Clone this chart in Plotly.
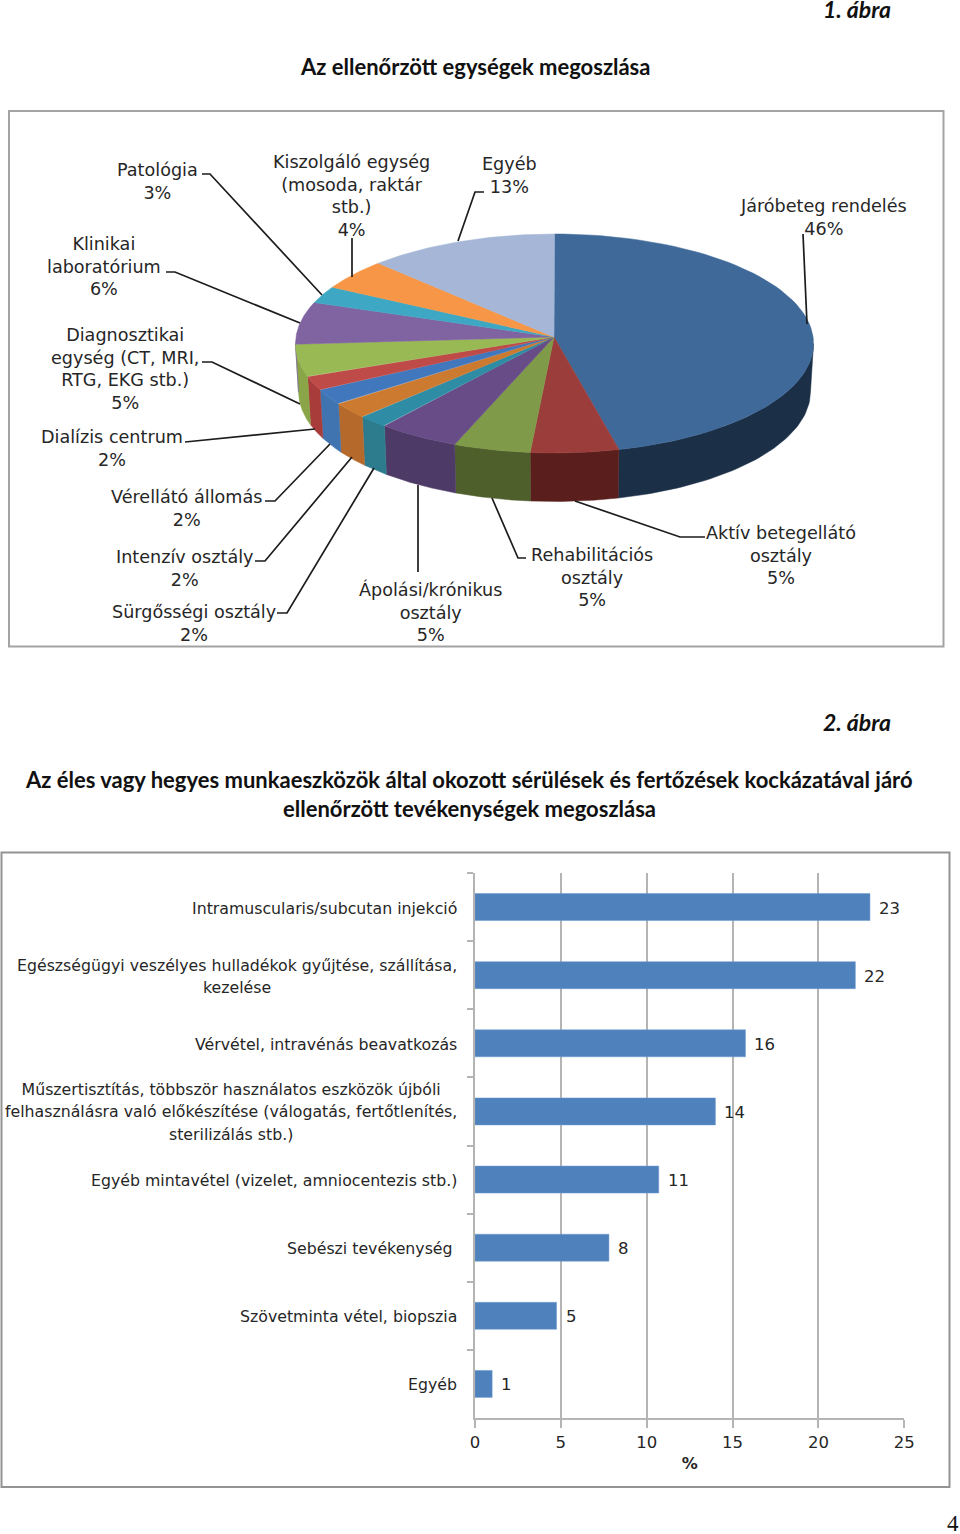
import numpy as np
import plotly.graph_objects as go

# ---------- data ----------
pie_names = ["Járóbeteg rendelés", "Aktív betegellátó osztály", "Rehabilitációs osztály",
             "Ápolási/krónikus osztály", "Sürgősségi osztály", "Intenzív osztály",
             "Vérellátó állomás", "Dialízis centrum", "Diagnosztikai egység", "Klinikai laboratórium",
             "Patológia", "Kiszolgáló egység", "Egyéb"]
pie_labels = [46, 5, 5, 5, 2, 2, 2, 2, 5, 6, 3, 4, 13]
pie_shares = [46, 5.5, 4.8, 5.1, 1.9, 2.4, 2.3, 2.1, 4.8, 6.2, 2.5, 4.5, 11.9]
pie_top = ["#3e6998", "#9b3d3b", "#7f9a48", "#674c87", "#2f8ca5", "#cc7a30", "#4178bd",
           "#bf4b48", "#98b954", "#8064a2", "#3ea8c4", "#f79646", "#a5b6d6"]
pie_side = ["#1b2f47", "#5a1f1d", "#4f5f2c", "#4e3a66", "#2c7c8e", "#b5692b", "#3f74b0",
            "#a83c3a", "#8aa548", "#8064a2", "#3ea8c4", "#f79646", "#a5b6d6"]

bar_names = ["Intramuscularis/subcutan injekció",
             "Egészségügyi veszélyes hulladékok gyűjtése, szállítása,<br>kezelése",
             "Vérvétel, intravénás beavatkozás",
             "Műszertisztítás, többször használatos eszközök újbóli<br>felhasználásra való előkészítése (válogatás, fertőtlenítés,<br>sterilizálás stb.)",
             "Egyéb mintavétel (vizelet, amniocentezis stb.)",
             "Sebészi tevékenység",
             "Szövetminta vétel, biopszia",
             "Egyéb"]
bar_labels = [23, 22, 16, 14, 11, 8, 5, 1]
bar_values = [23, 22.15, 15.75, 14, 10.7, 7.8, 4.75, 1]

W, H = 960, 1534
INK = "#262626"
BODY = "DejaVu Sans"
PIE_SIZE, PIE_LINE, BAR_SIZE, BAR_LINE, NUM_SIZE = 17.6, 17.46, 15.75, 17.3, 16.5
fig = go.Figure()

# ---------- pie geometry ----------
CX, CY, A, B = 554.5, 343.5, 259, 109.5
AX, AY = 554, 337
BCY, BA, BB = 391.5, 256, 110


def rim(t):
    return CX + A * np.sin(t), CY - B * np.cos(t)


def low(t):
    return CX + BA * np.sin(t), BCY - BB * np.cos(t)


edges = np.cumsum([0] + pie_shares) / sum(pie_shares) * 2 * np.pi
for i in range(len(pie_shares)):
    a0, a1 = max(edges[i], np.pi / 2), min(edges[i + 1], 3 * np.pi / 2)
    if a1 <= a0:
        continue
    t = np.linspace(a0, a1, 60)
    tx, ty = rim(t)
    bx, by = low(t)
    fig.add_trace(go.Scatter(
        x=np.r_[tx, bx[::-1], tx[0]], y=np.r_[ty, by[::-1], ty[0]],
        mode="lines", fill="toself", fillcolor=pie_side[i],
        line=dict(color=pie_side[i], width=0.5), hoverinfo="skip", showlegend=False,
        xaxis="x", yaxis="y"))
for i in range(len(pie_shares)):
    t = np.linspace(edges[i], edges[i + 1], 80)
    tx, ty = rim(t)
    fig.add_trace(go.Scatter(
        x=np.r_[AX, tx, AX], y=np.r_[AY, ty, AY],
        mode="lines", fill="toself", fillcolor=pie_top[i],
        line=dict(color=pie_top[i], width=0.5), hoverinfo="skip", showlegend=False,
        name=pie_names[i], xaxis="x", yaxis="y"))

# ---------- bar chart ----------
fig.add_trace(go.Bar(
    x=bar_values, y=bar_names, orientation="h", xaxis="x2", yaxis="y2",
    marker=dict(color="#4f81bd", line=dict(color="#6f9bcf", width=0.5)),
    width=0.396, hoverinfo="skip", showlegend=False))

# ---------- text ----------
ann = []


def txt(x, y, s, size=PIE_SIZE, font=BODY, color=INK, xa="center", xref="x", yref="y", yshift=0):
    ann.append(dict(x=x, y=y, text=s, xref=xref, yref=yref, showarrow=False, xanchor=xa,
                    yanchor="middle", align="center", yshift=yshift,
                    font=dict(family=font, size=size, color=color)))


def sized(s, size):
    return "<br>".join(f'<span style="font-size:{size}px">{line}</span>' for line in s.split("<br>"))


HEAD = "Lato"
txt(893, 9, "<b><i>1. ábra</i></b>", 23, HEAD, "#111", xa="right")
txt(475, 66.5, "<b>Az ellenőrzött egységek megoszlása</b>", 22, HEAD, "#111")
txt(893, 722, "<b><i>2. ábra</i></b>", 23, HEAD, "#111", xa="right")
txt(469, 779.5, "<b>Az éles vagy hegyes munkaeszközök által okozott sérülések és fertőzések kockázatával járó</b>", 22, HEAD, "#111")
txt(469, 808.5, "<b>ellenőrzött tevékenységek megoszlása</b>", 22, HEAD, "#111")
txt(953, 1523, "4", 23, "Liberation Serif", "#111")

pie_text = [
    (823, 217, "Járóbeteg rendelés", 0),
    (781, 555, "Aktív betegellátó<br>osztály", 1),
    (592, 577, "Rehabilitációs<br>osztály", 2),
    (430, 612, "Ápolási/krónikus<br>osztály", 3),
    (194, 623, "Sürgősségi osztály", 4),
    (185, 568, "Intenzív osztály", 5),
    (186, 508, "Vérellátó állomás", 6),
    (112, 448, "Dialízis centrum", 7),
    (125, 369, "Diagnosztikai<br>egység (CT, MRI,<br>RTG, EKG stb.)", 8),
    (104, 266, "Klinikai<br>laboratórium", 9),
    (157, 181, "Patológia", 10),
    (351, 195.5, "Kiszolgáló egység<br>(mosoda, raktár<br>stb.)", 11),
    (509, 175, "Egyéb", 12),
]
for x, y, s, i in pie_text:
    txt(x, y, sized(f"{s}<br>{pie_labels[i]}%", PIE_SIZE), PIE_LINE)

bar_right = [459, 459, 459, 459, 459, 455, 459, 459]
for i, (name, v, lab) in enumerate(zip(bar_names, bar_values, bar_labels)):
    txt(bar_right[i], i, sized(name, BAR_SIZE), BAR_LINE, xa="right", yref="y2", yshift=-1)
    ann.append(dict(x=v, y=i, xref="x2", yref="y2", text=str(lab), showarrow=False, xanchor="left",
                    xshift=7, yshift=-1, yanchor="middle", font=dict(family=BODY, size=NUM_SIZE, color=INK)))

# ---------- leader lines and frames ----------
leaders = [
    [(803, 234), (807, 324)],
    [(705, 537), (680, 537), (575, 501)],
    [(526, 558), (518, 558), (492, 498)],
    [(418, 572), (418, 485)],
    [(277, 613), (287, 613), (374, 468)],
    [(255, 561), (265, 561), (352, 457)],
    [(265, 501), (275, 501), (330, 444)],
    [(185, 442), (315, 429)],
    [(202, 362), (212, 362), (300, 404)],
    [(166, 272), (175, 272), (300, 323)],
    [(202, 174), (210, 174), (322, 295)],
    [(352, 238), (352, 277)],
    [(484, 192), (475, 192), (458, 241)],
]
shapes = [
    dict(type="rect", xref="x", yref="y", x0=9, y0=111, x1=943.5, y1=646.5,
         line=dict(color="#a3a3a3", width=2), layer="below"),
    dict(type="rect", xref="x", yref="y", x0=1.5, y0=852.5, x1=949.5, y1=1487,
         line=dict(color="#939393", width=2), layer="below"),
]
for pts in leaders:
    path = "M " + " L ".join(f"{x},{y}" for x, y in pts)
    shapes.append(dict(type="path", xref="x", yref="y", path=path,
                       line=dict(color="#1c1c1c", width=1.7)))

fig.update_layout(
    width=W, height=H, autosize=False,
    margin=dict(l=0, r=0, t=0, b=0, autoexpand=False),
    paper_bgcolor="white", plot_bgcolor="rgba(0,0,0,0)", showlegend=False,
    annotations=ann, shapes=shapes,
    xaxis=dict(domain=[0, 1], range=[0, W], visible=False, fixedrange=True),
    yaxis=dict(domain=[0, 1], range=[H, 0], visible=False, fixedrange=True),
    xaxis2=dict(domain=[475 / W, 904.3 / W], range=[0, 25], anchor="y2", dtick=5, tick0=0,
                showgrid=True, gridcolor="#b4b4b4", gridwidth=1.5, zeroline=False,
                showline=True, linecolor="#b4b4b4", linewidth=1.5,
                ticks="outside", ticklen=8, tickcolor="#b4b4b4", tickwidth=1.5,
                tickfont=dict(family=BODY, size=NUM_SIZE, color=INK),
                title=dict(text="<b>%</b>", font=dict(family=BODY, size=16, color=INK), standoff=7)),
    yaxis2=dict(domain=[(H - 1418) / H, (H - 873) / H], type="category", anchor="x2",
                categoryorder="array", categoryarray=bar_names, range=[7.5, -0.5],
                tickson="boundaries", ticks="outside", ticklen=6, tickcolor="#b4b4b4", tickwidth=1.5,
                showticklabels=False, showgrid=False, zeroline=False,
                showline=True, linecolor="#b4b4b4", linewidth=1.5),
)

fig.write_html("out.html", config=dict(displayModeBar=False),
               post_script="document.body.style.margin='0';")
